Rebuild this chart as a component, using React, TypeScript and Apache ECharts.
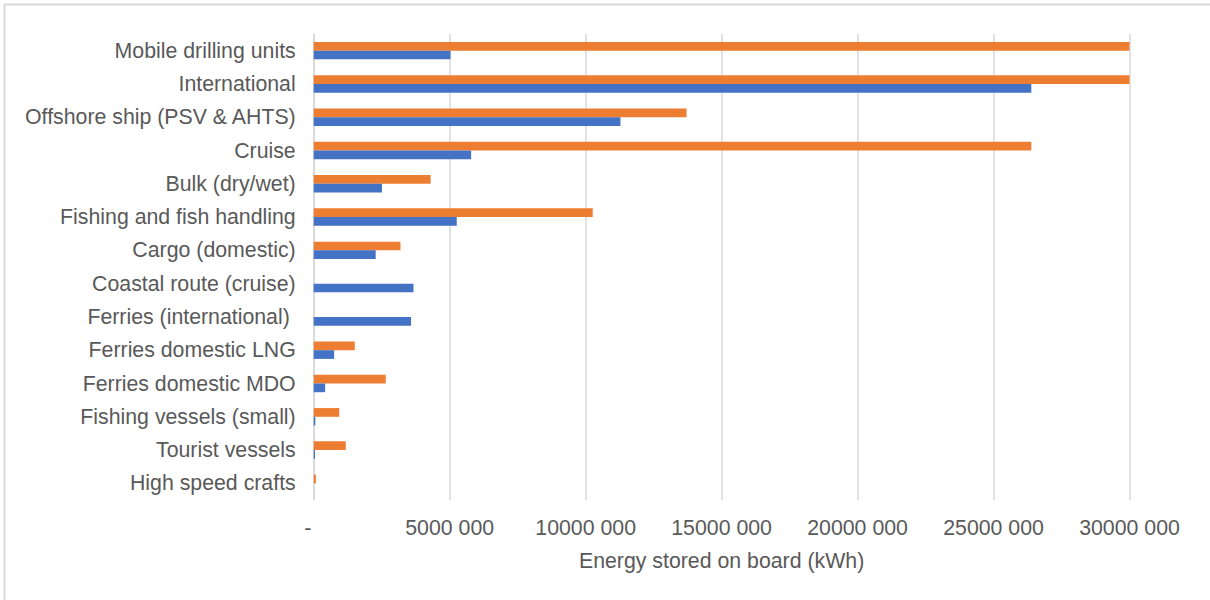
import React, { useEffect, useRef } from "react";
import * as echarts from "echarts";

const categories = [
  "Mobile drilling units",
  "International",
  "Offshore ship (PSV & AHTS)",
  "Cruise",
  "Bulk (dry/wet)",
  "Fishing and fish handling",
  "Cargo (domestic)",
  "Coastal route (cruise)",
  "Ferries (international) ",
  "Ferries domestic LNG",
  "Ferries domestic MDO",
  "Fishing vessels (small)",
  "Tourist vessels",
  "High speed crafts",
];

const orangeValues = [
  30000000, 30000000, 13710000, 26390000, 4300000, 10260000, 3190000, 0, 0,
  1510000, 2650000, 940000, 1180000, 80000,
];

const blueValues = [
  5030000, 26390000, 11280000, 5790000, 2510000, 5260000, 2280000, 3670000,
  3580000, 750000, 420000, 60000, 50000, 0,
];

const xTickMax = 30000000;
const xTickStep = 5000000;

const FONT = "Liberation Sans, Arial, sans-serif";
const TEXT = "#595959";

export default function App() {
  const ref = useRef<HTMLDivElement>(null);
  useEffect(() => {
    if (!ref.current) return;
    const chart = echarts.init(ref.current, null, { renderer: "svg" });
    chart.setOption({
      animation: false,
      backgroundColor: "#ffffff",
      graphic: [
        {
          type: "rect",
          shape: { x: 4.5, y: 4.5, width: 1220, height: 610 },
          style: { fill: "none", stroke: "#d9d9d9", lineWidth: 2 },
          silent: true,
        },
      ],
      grid: { left: 313.7, right: 80.5, top: 34, bottom: 100, containLabel: false },
      xAxis: {
        type: "value",
        min: 0,
        max: xTickMax,
        interval: xTickStep,
        name: "Energy stored on board (kWh)",
        nameLocation: "middle",
        nameGap: 50,
        nameTextStyle: { color: TEXT, fontSize: 21.3, fontFamily: FONT },
        axisLine: { show: false },
        axisTick: { show: false },
        axisLabel: {
          color: TEXT,
          fontSize: 21.3,
          fontFamily: FONT,
          margin: 17,
          formatter: (v: number) =>
            v === 0 ? "-\u00a0\u00a0" : `${Math.round(v / 1000)} 000`,
        },
        splitLine: { show: true, lineStyle: { color: "#d9d9d9", width: 1.5 } },
      },
      yAxis: {
        type: "category",
        data: categories,
        inverse: true,
        axisLine: { show: true, lineStyle: { color: "#d9d9d9", width: 1.5 } },
        axisTick: { show: false },
        axisLabel: {
          color: TEXT,
          fontSize: 21.3,
          fontFamily: FONT,
          margin: 18,
        },
      },
      series: [
        {
          name: "Orange",
          type: "bar",
          data: orangeValues,
          barWidth: 8.7,
          barGap: "0%",
          itemStyle: { color: "#ED7D31" },
        },
        {
          name: "Blue",
          type: "bar",
          data: blueValues,
          barWidth: 8.7,
          barGap: "0%",
          itemStyle: { color: "#4472C4" },
        },
      ],
    });
    return () => chart.dispose();
  }, []);
  return (
    <div
      ref={ref}
      style={{ position: "fixed", left: 0, top: 0, width: 1210, height: 600 }}
    />
  );
}
